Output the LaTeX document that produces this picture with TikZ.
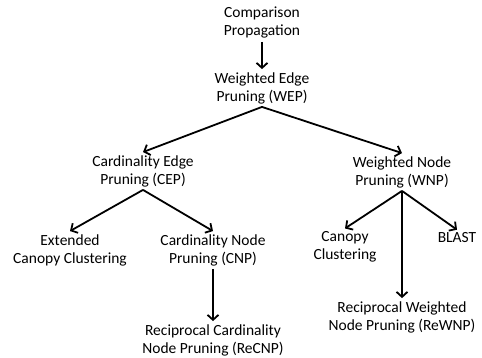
\documentclass[tikz,border=0pt]{standalone}
\usepackage{fontspec}
\setmainfont{Carlito}
\usetikzlibrary{arrows.meta}

\begin{document}
\begin{tikzpicture}[x=1pt,y=-1pt]
\useasboundingbox (0,0) rectangle (482,358);
\begin{scope}[every node/.style={align=center,inner sep=3pt,font=\fontsize{15.5}{18}\selectfont}]
    \node (cp) at (262,23) {Comparison\\Propagation};
    \node (wep) at (262,88) {Weighted Edge\\Pruning (WEP)};
    \node (cep) at (143,171) {Cardinality Edge\\Pruning (CEP)};
    \node (wnp) at (402,172) {Weighted Node\\Pruning (WNP)};
    \node (ecc) at (70,250) {Extended\\Canopy Clustering};
    \node (cnp) at (213,250) {Cardinality Node\\Pruning (CNP)};
    \node (recnp) at (213,340) {Reciprocal Cardinality\\Node Pruning (ReCNP)};
    \node (cc) at (345,247) {Canopy\\Clustering};
    \node (blast) at (457,238) {BLAST};
    \node (rewnp) at (402,317) {Reciprocal Weighted\\Node Pruning (ReWNP)};
\end{scope}

\begin{scope}[every edge/.style={draw=black,line width=1.8pt,-{Straight Barb[length=5pt,width=11pt]}}]
    \path (cp.south) edge (wep.north);
    \path (wep.south) edge (cep.north);
    \path (wep.south) edge (wnp.north);
    \path (cep.south) edge (ecc.north);
    \path (cep.south) edge (cnp.north);
    \path (cnp.south) edge (recnp.north);
    \path (wnp.south) edge (cc.north);
    \path (wnp.south) edge (blast.north);
    \path (wnp.south) edge (rewnp.north);
\end{scope}
\end{tikzpicture}
\end{document}
